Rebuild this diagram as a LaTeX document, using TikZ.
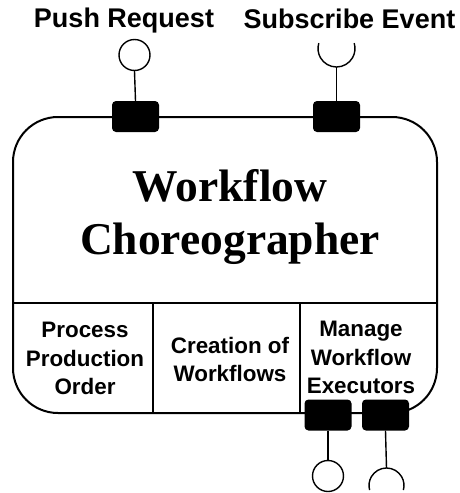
\documentclass[tikz,border=0pt]{standalone}
\usepackage{fontspec}
\setmainfont{Liberation Serif}
\newfontfamily\labelfont{Liberation Sans}
\begin{document}
\begin{tikzpicture}[x=1pt,y=-1pt,
  frame/.style={draw, line width=2pt, rounded corners=45pt},
  divider/.style={line width=1.6pt},
  port/.style={fill=black, rounded corners=4pt, minimum width=47pt, minimum height=31pt, inner sep=0pt},
  lolly/.style={circle, draw, line width=1.4pt, minimum size=31pt, inner sep=0pt},
  wire/.style={line width=1.4pt},
  toplabel/.style={font=\labelfont\bfseries\fontsize{27}{32}\selectfont, anchor=base, inner sep=0pt},
  title/.style={font=\bfseries\fontsize{45.5}{53}\selectfont, align=center, inner sep=0pt},
  cell/.style={font=\labelfont\bfseries\fontsize{22.4}{28.5}\selectfont, align=center, inner sep=0pt}
]
\useasboundingbox (0,0) rectangle (459,493);

% component body
\node[frame, minimum width=424pt, minimum height=296pt, inner sep=0pt] (body) at (225,265) {};

% compartment dividers
\coordinate (hl) at (13,303);
\coordinate (hr) at (437,303);
\coordinate (v1t) at (153,303);
\coordinate (v1b) at (153,413);
\coordinate (v2t) at (300,303);
\coordinate (v2b) at (300,413);
\draw[divider] (hl) -- (hr);
\draw[divider] (v1t) -- (v1b);
\draw[divider] (v2t) -- (v2b);

% title and compartments
\node[title] (name) at (230,217) {Workflow\\Choreographer};
\node[cell] (c1) at (85,358.5) {Process\\Production\\Order};
\node[cell] (c2) at (230,359.5) {Creation of\\Workflows};
\node[cell] (c3) at (361,357.5) {Manage\\Workflow\\Executors};

% ports
\node[port] (p1) at (135.5,116.5) {};
\node[port] (p2) at (336.5,116.5) {};
\node[port] (p3) at (328,415) {};
\node[port] (p4) at (385.5,415) {};

% provided interface (top)
\node[lolly] (i1) at (134.5,55) {};
\draw[wire] (p1.north) -- (i1.south);
\node[toplabel] (l1) at (124,27) {Push Request};

% required interface (top)
\coordinate (s1) at (336.5,67);
\draw[wire] (p2.north) -- (s1);
\draw[wire] (s1) arc[start angle=90, end angle=197, radius=18.5];
\draw[wire] (s1) arc[start angle=90, end angle=-17, radius=18.5];
\node[toplabel] (l2) at (349.5,28) {Subscribe Event};

% provided interface (bottom)
\node[lolly] (i3) at (328,476) {};
\draw[wire] (p3.south) -- (i3.north);

% required interface (bottom)
\coordinate (s2) at (386.5,468);
\draw[wire] (p4.south) -- (s2);
\draw[wire] (s2) arc[start angle=-90, end angle=-195, radius=17.5];
\draw[wire] (s2) arc[start angle=-90, end angle=15, radius=17.5];
\end{tikzpicture}
\end{document}
